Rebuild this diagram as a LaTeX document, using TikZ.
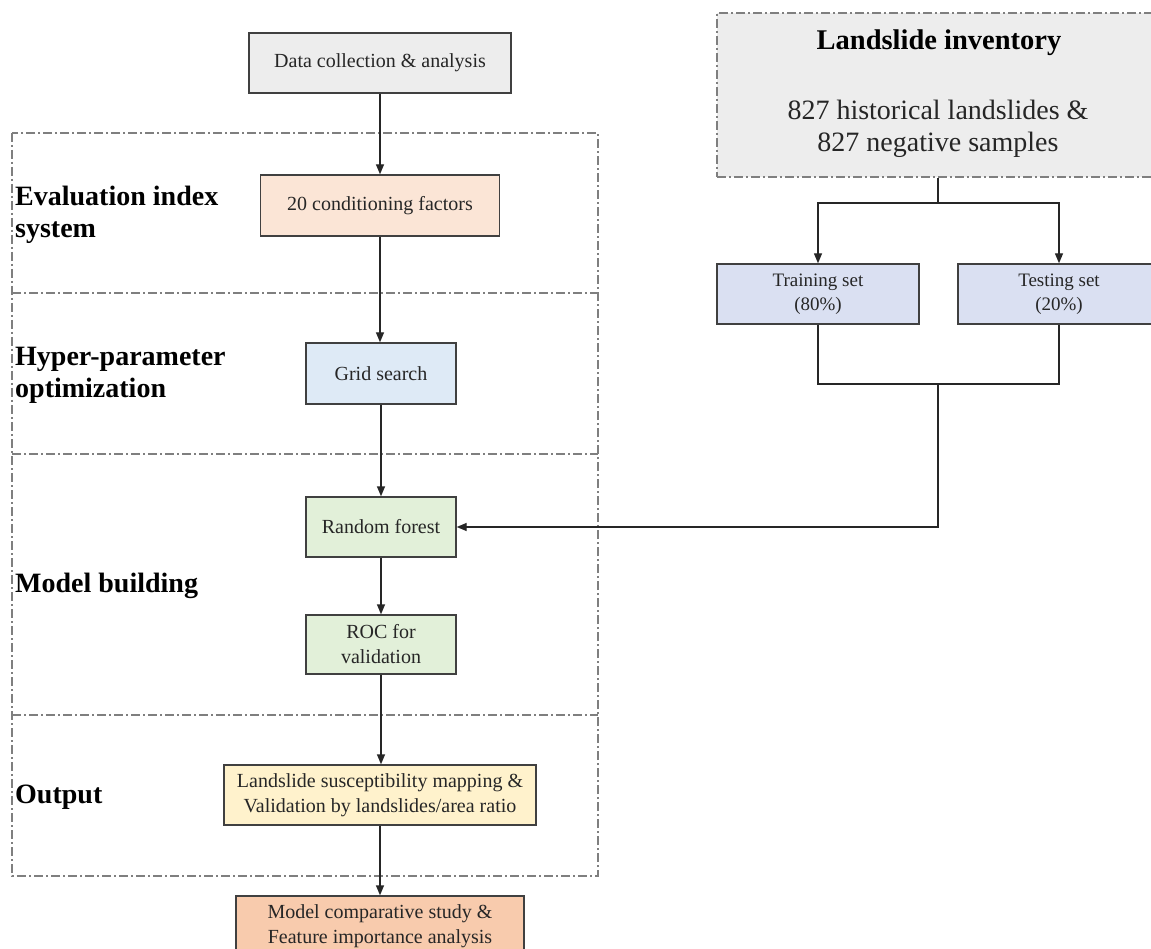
\documentclass[tikz,border=0pt]{standalone}
\usepackage{fontspec}
\setmainfont{Liberation Serif}
\usetikzlibrary{arrows.meta}
\definecolor{bordc}{HTML}{404040}
\definecolor{framec}{HTML}{7F7F7F}
\definecolor{grayf}{HTML}{EDEDED}
\definecolor{peachf}{HTML}{FBE5D6}
\definecolor{bluef}{HTML}{DEEAF6}
\definecolor{lavf}{HTML}{DAE0F2}
\definecolor{greenf}{HTML}{E2F0D9}
\definecolor{yellowf}{HTML}{FFF2CC}
\definecolor{salmonf}{HTML}{F8CBAD}
\tikzset{
  box/.style={draw=bordc, line width=1.4pt, inner sep=0pt, align=center,
    font=\fontsize{20}{25}\selectfont, text=black!85},
  arr/.style={draw=black!85, line width=1.4pt, -{Triangle[length=10pt,width=8pt]}},
  conn/.style={draw=black!85, line width=1.4pt},
  frame/.style={draw=framec, line width=1.3pt, dash pattern=on 9pt off 3pt on 2pt off 3pt},
  seclabel/.style={anchor=west, align=left, inner sep=0pt, font=\fontsize{28}{32}\selectfont\bfseries},
}
\begin{document}
\begin{tikzpicture}[x=1pt, y=-1pt]
\useasboundingbox (0,0) rectangle (1151,949);
\fill[white] (0,0) rectangle (1151,949);

% left frame
\draw[frame] (12,133) rectangle (598,876);
\draw[frame] (12,293) -- (598,293);
\draw[frame] (12,454) -- (598,454);
\draw[frame] (12,715) -- (598,715);

% section labels
\node[seclabel] (l1) at (15,215) {Evaluation index\\system};
\node[seclabel] (l2) at (15,375) {Hyper-parameter\\optimization};
\node[seclabel] (l3) at (15,586) {Model building};
\node[seclabel] (l4) at (15,797) {Output};

% main column boxes
\node[box, fill=grayf, minimum width=262, minimum height=60] (data) at (380,63) {Data collection \& analysis};
\node[box, fill=peachf, minimum width=239, minimum height=61] (cond) at (380,205.5) {20 conditioning factors};
\node[box, fill=bluef, minimum width=150, minimum height=61] (grid) at (381,373.5) {Grid search};
\node[box, fill=greenf, minimum width=150, minimum height=60] (rf) at (381,527) {Random forest};
\node[box, fill=greenf, minimum width=150, minimum height=59] (roc) at (381,644.5) {ROC for\\validation};
\node[box, fill=yellowf, minimum width=312, minimum height=60] (lsm) at (380,795) {Landslide susceptibility mapping \&\\Validation by landslides/area ratio};
\node[box, fill=salmonf, minimum width=288, minimum height=60] (mcs) at (380,926) {Model comparative study \&\\Feature importance analysis};

% inventory
\node[frame, fill=grayf, minimum width=442, minimum height=164, inner sep=0pt] (inv) at (938,95) {};
\node[anchor=base, inner sep=0pt, font=\fontsize{28.5}{32}\selectfont\bfseries] (invt) at (939,50) {Landslide inventory};
\node[anchor=base, inner sep=0pt, font=\fontsize{28}{32}\selectfont, text=black!85] (invl1) at (938,120) {827 historical landslides \&};
\node[anchor=base, inner sep=0pt, font=\fontsize{28}{32}\selectfont, text=black!85] (invl2) at (938,152) {827 negative samples};

\node[box, fill=lavf, minimum width=202, minimum height=60, font=\fontsize{19}{24}\selectfont] (train) at (818,294) {Training set\\(80\%)};
\node[box, fill=lavf, minimum width=202, minimum height=60, font=\fontsize{19}{24}\selectfont] (test) at (1059,294) {Testing set\\(20\%)};

% connectors main column
\draw[arr] (data.south) -- (cond.north);
\draw[arr] (cond.south) -- (grid.north -| cond.south);
\draw[arr] (grid.south) -- (rf.north);
\draw[arr] (rf.south) -- (roc.north);
\draw[arr] (roc.south) -- (lsm.north -| roc.south);
\draw[arr] (lsm.south) -- (mcs.north);

% inventory split
\coordinate (split) at (938,203);
\coordinate (merge) at (938,384);
\draw[conn] (inv.south) -- (split);
\draw[arr] (split) -| (train.north);
\draw[arr] (split) -| (test.north);
\draw[conn] (train.south) |- (merge) -| (test.south);
\draw[arr] (merge) |- (rf.east);
\end{tikzpicture}
\end{document}
